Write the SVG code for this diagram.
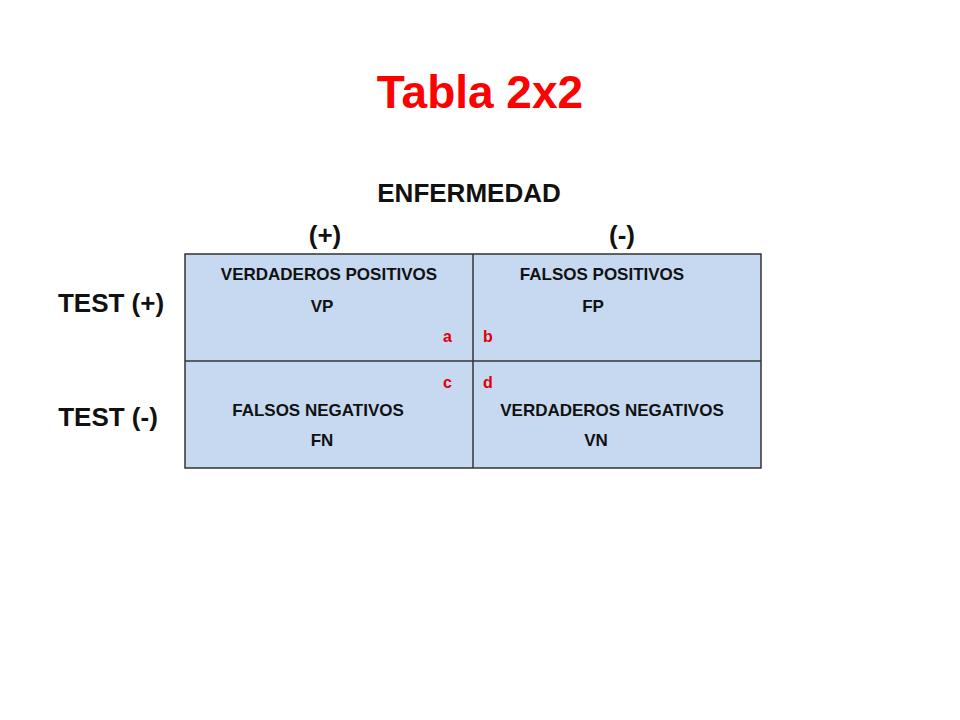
<svg xmlns="http://www.w3.org/2000/svg" width="960" height="720" viewBox="0 0 960 720">
<style>
text{font-family:"Liberation Sans",Arial,sans-serif;font-weight:bold}
.c{font-size:17px;fill:#111;text-anchor:middle}
.r{font-size:16px;fill:#e00000}
.h{font-size:26px;fill:#111;text-anchor:middle}
</style>
<rect width="960" height="720" fill="#fff"/>
<text x="480" y="108" text-anchor="middle" font-size="46" fill="#ff0000" style="font-weight:bold">Tabla 2x2</text>
<text class="h" x="469" y="202">ENFERMEDAD</text>
<text class="h" x="325" y="244">(+)</text>
<text class="h" x="622" y="244">(-)</text>
<text class="h" x="111" y="312">TEST (+)</text>
<text class="h" x="108" y="426">TEST (-)</text>
<g id="table">
<rect x="185" y="254" width="576" height="214" fill="#c6d9f0" stroke="#333" stroke-width="1.5"/>
<line x1="473" y1="254" x2="473" y2="468" stroke="#333" stroke-width="1.5"/>
<line x1="185" y1="361" x2="761" y2="361" stroke="#333" stroke-width="1.5"/>
</g>
<g id="cell-a"><text class="c" x="329" y="280">VERDADEROS POSITIVOS</text><text class="c" x="322" y="312">VP</text><text class="r" x="443" y="342">a</text></g>
<g id="cell-b"><text class="c" x="602" y="280">FALSOS POSITIVOS</text><text class="c" x="593" y="312">FP</text><text class="r" x="483" y="342">b</text></g>
<g id="cell-c"><text class="r" x="443" y="388">c</text><text class="c" x="318" y="416">FALSOS NEGATIVOS</text><text class="c" x="322" y="446">FN</text></g>
<g id="cell-d"><text class="r" x="483" y="388">d</text><text class="c" x="612" y="416">VERDADEROS NEGATIVOS</text><text class="c" x="596" y="446">VN</text></g>
</svg>
